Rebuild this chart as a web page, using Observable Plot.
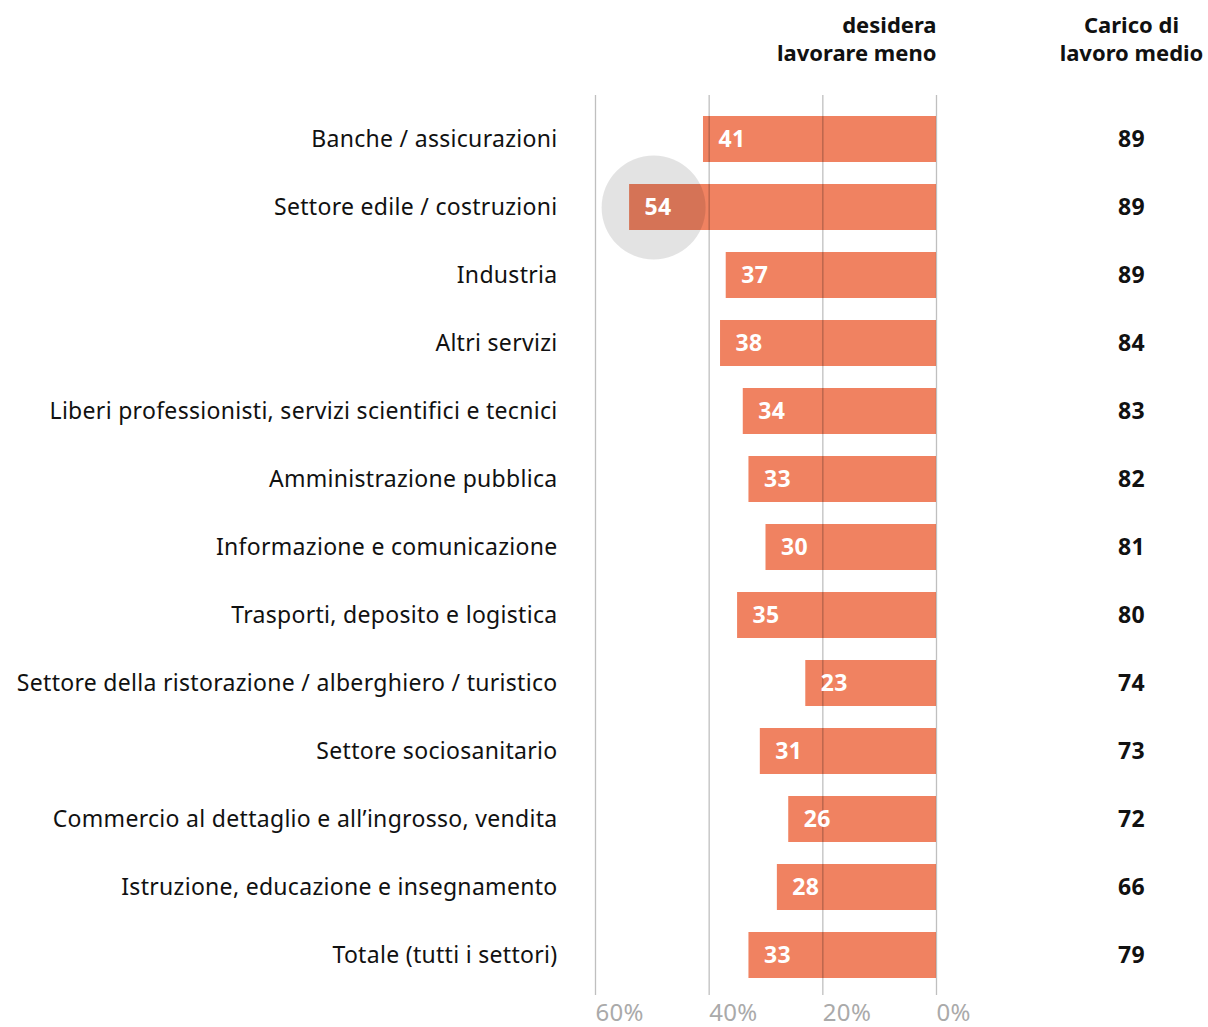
<!DOCTYPE html>
<html>
<head>
<meta charset="utf-8">
<script src="https://cdn.jsdelivr.net/npm/d3@7"></script>
<script src="https://cdn.jsdelivr.net/npm/@observablehq/plot@0.6"></script>
<style>
  html, body { margin: 0; padding: 0; background: #fff; }
  .hdr text, .hdr { letter-spacing: 0px; }
</style>
</head>
<body>
<div id="chart"></div>
<script>
const sectors = [
  "Banche / assicurazioni",
  "Settore edile / costruzioni",
  "Industria",
  "Altri servizi",
  "Liberi professionisti, servizi scientifici e tecnici",
  "Amministrazione pubblica",
  "Informazione e comunicazione",
  "Trasporti, deposito e logistica",
  "Settore della ristorazione / alberghiero / turistico",
  "Settore sociosanitario",
  "Commercio al dettaglio e all’ingrosso, vendita",
  "Istruzione, educazione e insegnamento",
  "Totale (tutti i settori)"
];
const lavorareMeno = [41, 54, 37, 38, 34, 33, 30, 35, 23, 31, 26, 28, 33];
const caricoMedio = [89, 89, 89, 84, 83, 82, 81, 80, 74, 73, 72, 66, 79];
const tickValues = [60, 40, 20, 0];
const highlightSector = "Settore edile / costruzioni";
const headerLeft = "desidera\nlavorare meno";
const headerRight = "Carico di\nlavoro medio";

const data = sectors.map((s, i) => ({sector: s, value: lavorareMeno[i], carico: caricoMedio[i]}));
const highlight = data.filter(d => d.sector === highlightSector);

const FONT = "'Noto Sans', sans-serif";

const chart = Plot.plot({
  width: 1208,
  height: 1027,
  marginTop: 95,
  marginBottom: 32,
  marginLeft: 595,
  marginRight: 272,
  style: {fontFamily: FONT, fontSize: "22px", color: "#111", background: "#fff", letterSpacing: "0.3px"},
  x: {domain: [60, 0], axis: null},
  y: {domain: sectors, range: [105, 989], paddingInner: 0.32, paddingOuter: 0.16, align: 0.5, axis: null},
  marks: [
    Plot.barX(data, {x: "value", y: "sector", fill: "#F08261"}),
    Plot.dot(highlight, {x: "value", y: "sector", r: 52, dx: 24, fill: "#000", fillOpacity: 0.11, stroke: null}),
    Plot.ruleX(tickValues, {stroke: "#000", strokeOpacity: 0.25, strokeWidth: 1.3}),
    Plot.text(data, {x: "value", y: "sector", text: d => String(d.value), textAnchor: "start", dx: 15, fill: "#fff", fontWeight: "bold", fontSize: 23}),
    Plot.text(data, {y: "sector", text: "sector", frameAnchor: "left", textAnchor: "end", dx: -38, fill: "#111", fontSize: 23}),
    Plot.text(data, {y: "sector", text: d => String(d.carico), frameAnchor: "right", textAnchor: "middle", dx: 195, fill: "#111", fontWeight: "bold", fontSize: 23}),
    Plot.text(tickValues, {x: d => d, text: d => d + "%", frameAnchor: "bottom", textAnchor: "start", lineAnchor: "middle", dy: 18, fill: "#aaa", fontSize: 24}),
    Plot.text([headerLeft], {text: d => d, frameAnchor: "top-right", textAnchor: "end", lineAnchor: "middle", dy: -57, lineHeight: 1.27, fill: "#111", fontWeight: "bold", fontSize: 22, className: "hdr"}),
    Plot.text([headerRight], {text: d => d, frameAnchor: "top-right", textAnchor: "middle", lineAnchor: "middle", dx: 195, dy: -57, lineHeight: 1.27, fill: "#111", fontWeight: "bold", fontSize: 22, className: "hdr"})
  ]
});
document.getElementById("chart").appendChild(chart);
</script>
</body>
</html>
